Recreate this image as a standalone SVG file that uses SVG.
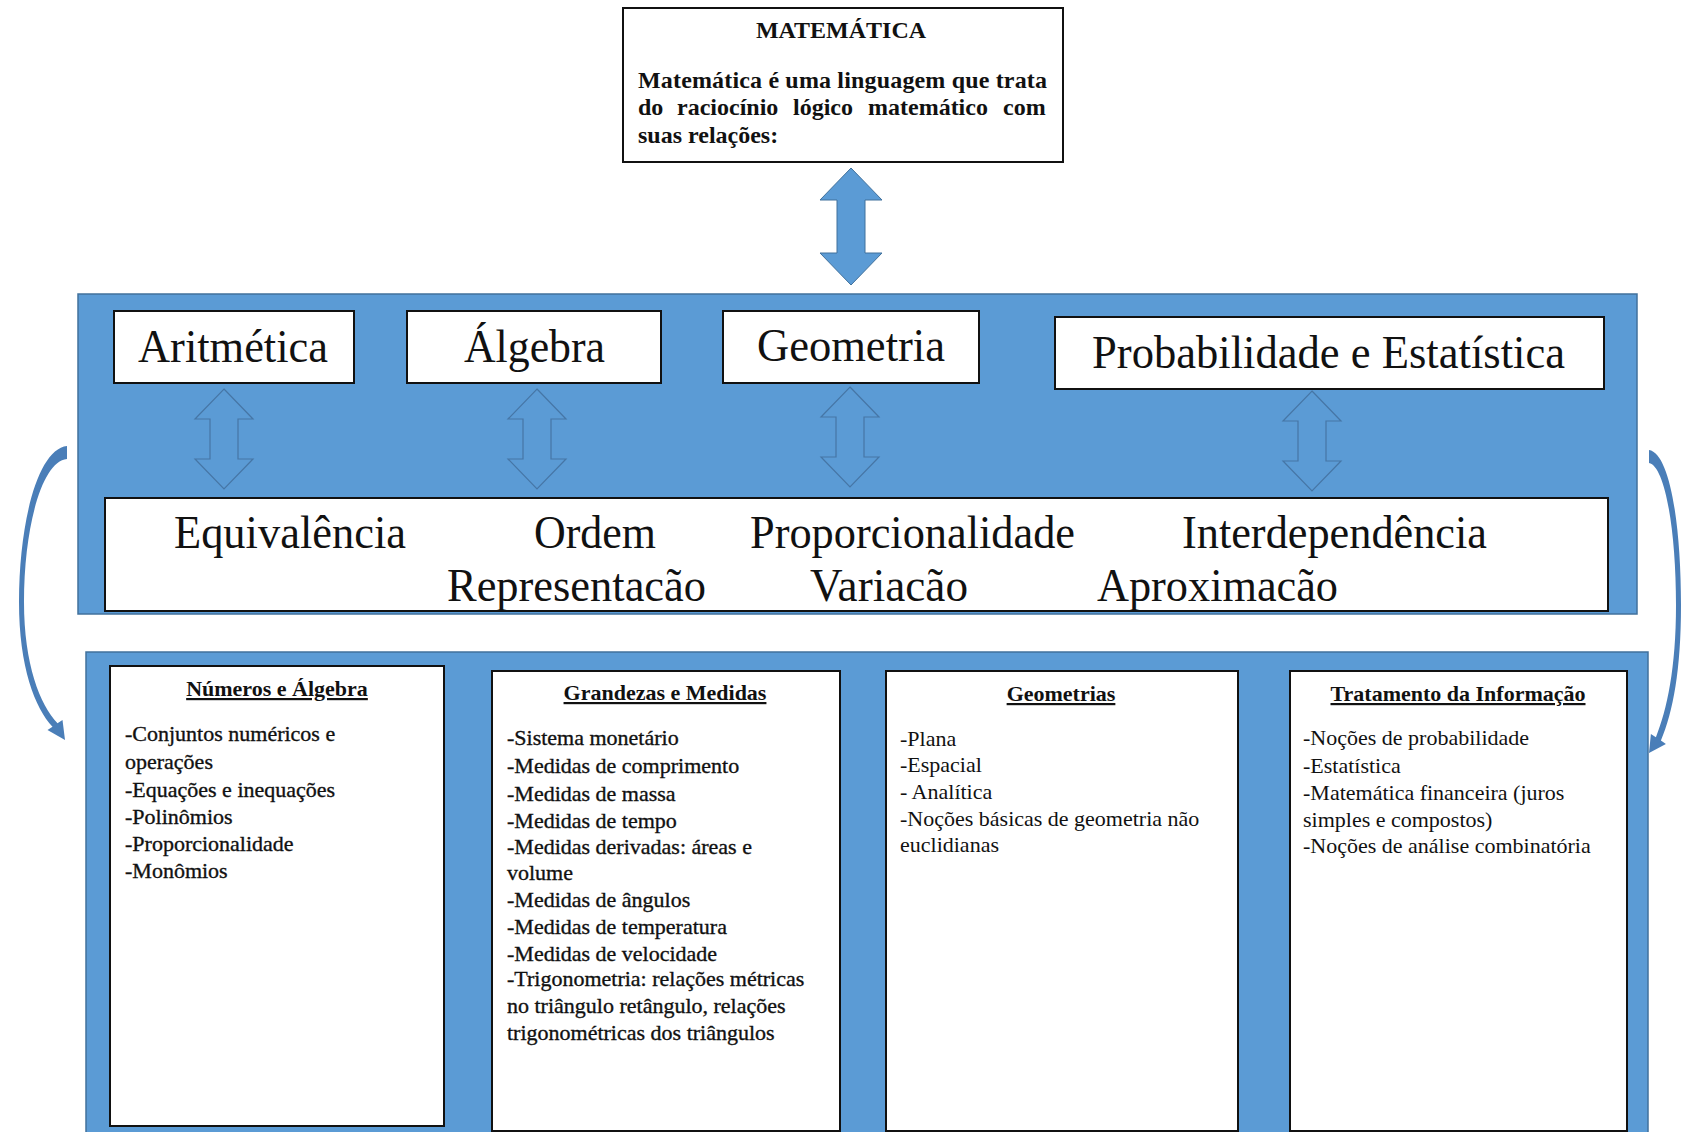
<svg xmlns="http://www.w3.org/2000/svg" width="1681" height="1132" viewBox="0 0 1681 1132">
  <style>
    .panel { fill: #5B9BD5; stroke: #41719C; stroke-width: 1.5; }
    .box { fill: #ffffff; stroke: #111111; stroke-width: 2; }
    .serif { font-family: "Liberation Serif", "Times New Roman", serif; fill: #111111; }
    .big { font-size: 47px; }
    .key { font-size: 46px; }
    .head { font-size: 24px; font-weight: bold; }
    .ttl { font-size: 22px; font-weight: bold; text-decoration: underline; }
    .item { font-size: 22px; }
    .heavy { stroke: #111111; stroke-width: 0.35; }
    .hollow { fill: none; stroke: #4676A6; stroke-width: 1.2; }
    .solid { fill: #5B9BD5; stroke: #41719C; stroke-width: 1; }
    .curve { fill: #4A7EB8; }
  </style>
  <defs>
    <path id="dblarrow" d="M0,0 L29,30 L14,30 L14,70 L29,70 L0,100 L-29,70 L-14,70 L-14,30 L-29,30 Z"/>
    <clipPath id="keyclip">
      <rect x="105" y="498" width="1503" height="112"/>
    </clipPath>
  </defs>

  <rect x="0" y="0" width="1681" height="1132" fill="#ffffff"/>

  <!-- background panels -->
  <rect id="panel-areas" class="panel" x="78" y="294" width="1559" height="320"/>
  <rect id="panel-contents" class="panel" x="86" y="652" width="1562" height="490"/>

  <!-- root node -->
  <g id="matematica">
    <rect class="box" x="623" y="8" width="440" height="154"/>
    <text class="serif head" x="841" y="38" text-anchor="middle">MATEMÁTICA</text>
    <text class="serif head" x="638" y="88" textLength="409" lengthAdjust="spacing">Matemática é uma linguagem que trata</text>
    <text class="serif head" y="115"><tspan x="638">do</tspan><tspan x="677">raciocínio</tspan><tspan x="793">lógico</tspan><tspan x="868">matemático</tspan><tspan x="1003">com</tspan></text>
    <text class="serif head" x="638" y="143">suas relações:</text>
  </g>

  <!-- area nodes -->
  <g id="aritmetica">
    <rect class="box" x="114" y="311" width="240" height="72"/>
    <text class="serif big" x="138" y="362" textLength="190" lengthAdjust="spacingAndGlyphs">Aritmética</text>
  </g>
  <g id="algebra">
    <rect class="box" x="407" y="311" width="254" height="72"/>
    <text class="serif big" x="464" y="362" textLength="141" lengthAdjust="spacingAndGlyphs">Álgebra</text>
  </g>
  <g id="geometria">
    <rect class="box" x="723" y="311" width="256" height="72"/>
    <text class="serif big" x="757" y="361" textLength="188" lengthAdjust="spacingAndGlyphs">Geometria</text>
  </g>
  <g id="probabilidade">
    <rect class="box" x="1055" y="317" width="549" height="72"/>
    <text class="serif big" x="1092" y="368" textLength="473" lengthAdjust="spacingAndGlyphs">Probabilidade e Estatística</text>
  </g>

  <!-- key ideas node -->
  <g id="ideias">
    <rect class="box" x="105" y="498" width="1503" height="113"/>
    <g clip-path="url(#keyclip)">
      <text class="serif key" x="174" y="548" textLength="232" lengthAdjust="spacingAndGlyphs">Equivalência</text>
      <text class="serif key" x="534" y="548" textLength="122" lengthAdjust="spacingAndGlyphs">Ordem</text>
      <text class="serif key" x="750" y="548" textLength="325" lengthAdjust="spacingAndGlyphs">Proporcionalidade</text>
      <text class="serif key" x="1182" y="548" textLength="305" lengthAdjust="spacingAndGlyphs">Interdependência</text>
      <text class="serif key" x="447" y="601" textLength="259" lengthAdjust="spacingAndGlyphs">Representacão</text>
      <text class="serif key" x="810" y="601" textLength="158" lengthAdjust="spacingAndGlyphs">Variacão</text>
      <text class="serif key" x="1097" y="601" textLength="241" lengthAdjust="spacingAndGlyphs">Aproximacão</text>
    </g>
  </g>

  <!-- content nodes -->
  <g id="numeros-algebra">
    <rect class="box" x="110" y="666" width="334" height="460"/>
    <text class="serif ttl" x="277" y="696" text-anchor="middle">Números e Álgebra</text>
    <text class="serif item heavy" x="125" y="741">-Conjuntos numéricos e</text>
    <text class="serif item heavy" x="125" y="769">operações</text>
    <text class="serif item heavy" x="125" y="797">-Equações e inequações</text>
    <text class="serif item heavy" x="125" y="824">-Polinômios</text>
    <text class="serif item heavy" x="125" y="851">-Proporcionalidade</text>
    <text class="serif item heavy" x="125" y="878">-Monômios</text>
  </g>

  <g id="grandezas-medidas">
    <rect class="box" x="492" y="671" width="348" height="460"/>
    <text class="serif ttl" x="665" y="700" text-anchor="middle">Grandezas e Medidas</text>
    <text class="serif item heavy" x="507" y="745">-Sistema monetário</text>
    <text class="serif item heavy" x="507" y="773">-Medidas de comprimento</text>
    <text class="serif item heavy" x="507" y="801">-Medidas de massa</text>
    <text class="serif item heavy" x="507" y="828">-Medidas de tempo</text>
    <text class="serif item heavy" x="507" y="854">-Medidas derivadas: áreas e</text>
    <text class="serif item heavy" x="507" y="880">volume</text>
    <text class="serif item heavy" x="507" y="907">-Medidas de ângulos</text>
    <text class="serif item heavy" x="507" y="934">-Medidas de temperatura</text>
    <text class="serif item heavy" x="507" y="961">-Medidas de velocidade</text>
    <text class="serif item heavy" x="507" y="986">-Trigonometria: relações métricas</text>
    <text class="serif item heavy" x="507" y="1013">no triângulo retângulo, relações</text>
    <text class="serif item heavy" x="507" y="1040">trigonométricas dos triângulos</text>
  </g>

  <g id="geometrias">
    <rect class="box" x="886" y="671" width="352" height="460"/>
    <text class="serif ttl" x="1061" y="701" text-anchor="middle">Geometrias</text>
    <text class="serif item" x="900" y="746">-Plana</text>
    <text class="serif item" x="900" y="772">-Espacial</text>
    <text class="serif item" x="900" y="799">- Analítica</text>
    <text class="serif item" x="900" y="826">-Noções básicas de geometria não</text>
    <text class="serif item" x="900" y="852">euclidianas</text>
  </g>

  <g id="tratamento-informacao">
    <rect class="box" x="1290" y="671" width="337" height="460"/>
    <text class="serif ttl" x="1458" y="701" text-anchor="middle">Tratamento da Informação</text>
    <text class="serif item" x="1303" y="745">-Noções de probabilidade</text>
    <text class="serif item" x="1303" y="773">-Estatística</text>
    <text class="serif item" x="1303" y="800">-Matemática financeira (juros</text>
    <text class="serif item" x="1303" y="827">simples e compostos)</text>
    <text class="serif item" x="1303" y="853">-Noções de análise combinatória</text>
  </g>

  <!-- connectors -->
  <g id="connectors">
    <path class="solid" d="M851,168 L882,200 L865,200 L865,253 L882,253 L851,285 L820,253 L837,253 L837,200 L820,200 Z"/>
    <use href="#dblarrow" class="hollow" transform="translate(224,389)"/>
    <use href="#dblarrow" class="hollow" transform="translate(537,389)"/>
    <use href="#dblarrow" class="hollow" transform="translate(850,387)"/>
    <use href="#dblarrow" class="hollow" transform="translate(1312,391)"/>
    <path class="curve" d="M67,446 C38,449 19,522 19,602 C19,667 35,708 52.5,726.7 L47.5,730 L65,740 L62.5,720 L57.5,723.3 C40,705 24,664 24,602 C24,527 42,461 67,459 Z"/>
    <path class="curve" d="M1649,450 C1670,453 1681,525 1681,605 C1681,670 1673,712 1660.9,740.5 L1665.9,743.9 L1649,753 L1650.9,733.9 L1655.9,737.2 C1667,710 1676,668 1676,605 C1676,530 1665,466 1649,463 Z"/>
  </g>
</svg>
